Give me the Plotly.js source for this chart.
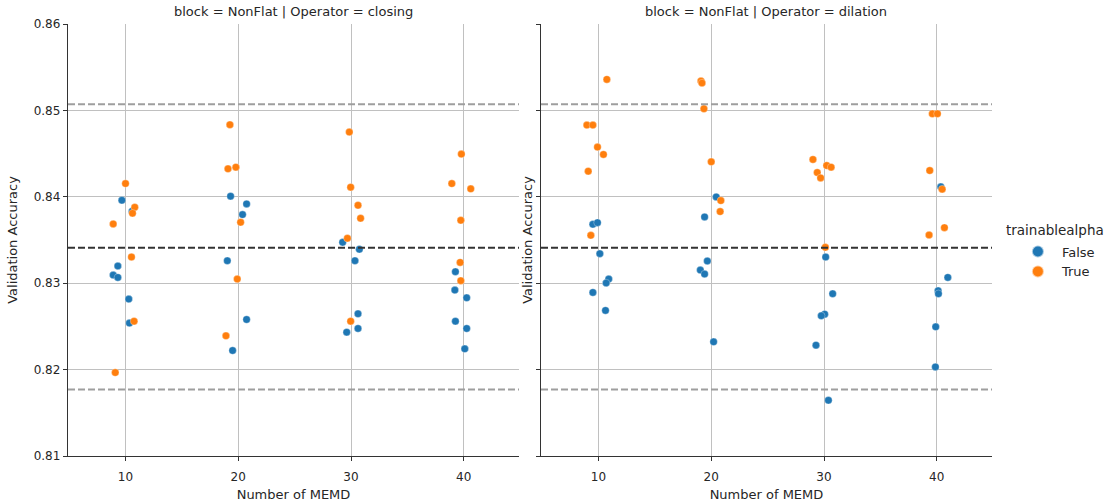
<!DOCTYPE html>
<html>
<head>
<meta charset="utf-8">
<script src="https://cdn.plot.ly/plotly-3.0.1.min.js"></script>
<style>html,body{margin:0;padding:0;background:#fff;}#chart{width:1112px;height:502px;}</style>
</head>
<body>
<div id="chart"></div>
<script>
// ---- data ----
const panelTitles = ["block = NonFlat | Operator = closing", "block = NonFlat | Operator = dilation"];
const hueTitle = "trainablealpha";
const hueNames = ["False", "True"];
const xTicks = [10, 20, 30, 40];
const yTicks = [0.81, 0.82, 0.83, 0.84, 0.85, 0.86];

const closingFalseX = [9.68,10.59,9.32,8.91,9.32,10.29,10.35, 19.32,20.74,20.38,19.03,20.74,19.5, 29.26,30.74,30.35,30.62,30.62,29.62, 39.26,39.21,40.26,39.26,40.26,40.09];
const closingFalseY = [0.8396,0.83833,0.83199,0.83094,0.83067,0.82816,0.82538, 0.84007,0.83918,0.83794,0.8326,0.8258,0.82221, 0.83473,0.83392,0.8326,0.82646,0.82476,0.82433, 0.83133,0.8292,0.82831,0.8256,0.82476,0.8224];
const closingTrueX = [10.0,10.82,10.62,8.91,10.53,10.76,9.09, 19.26,19.09,19.79,20.21,19.91,18.91, 29.85,29.97,30.62,30.85,29.68,29.97, 39.79,38.94,40.62,39.74,39.68,39.74];
const closingTrueY = [0.84153,0.83879,0.8381,0.83686,0.83303,0.8256,0.81966, 0.84834,0.84324,0.84343,0.83705,0.83048,0.82391, 0.84749,0.84111,0.83902,0.83751,0.8352,0.8256, 0.84494,0.84153,0.84092,0.83728,0.83241,0.83029];
const dilationFalseX = [9.5,9.91,10.12,10.91,10.68,9.5,10.62, 20.44,19.41,19.65,19.03,19.41,20.21, 30.15,30.77,30.06,29.76,29.29,30.39, 40.36,40.98,40.12,40.15,39.91,39.88];
const dilationFalseY = [0.83682,0.83701,0.83342,0.83048,0.83002,0.82893,0.82685, 0.83999,0.83767,0.83257,0.83152,0.83106,0.82321, 0.83303,0.82878,0.82642,0.82623,0.82283,0.81645, 0.84115,0.83067,0.82913,0.82878,0.82495,0.82031];
const dilationTrueX = [10.74,8.97,9.5,9.91,10.44,9.09,9.32, 19.09,19.18,19.35,20.0,20.85,20.79, 29.02,29.4,29.7,30.24,30.63,30.12, 39.61,40.06,39.38,40.48,40.68,39.32];
const dilationTrueY = [0.85359,0.8483,0.8483,0.84575,0.8449,0.84296,0.83554, 0.8534,0.85317,0.85019,0.84405,0.83956,0.83829, 0.84432,0.84281,0.84219,0.84362,0.84343,0.83415, 0.84961,0.84961,0.84304,0.84088,0.83643,0.83558];

const meanLine = 0.8341;
const bandLines = [0.8507, 0.8177];

// ---- styles ----
const colors = ["#1f77b4", "#ff7f0e"];
const FONT = "DejaVu Sans, sans-serif";
const textColor = "#262626";

function pts(x, y, hueIdx, ax, showLegend) {
  return {
    type: "scatter", mode: "markers", x: x, y: y,
    xaxis: ax[0], yaxis: ax[1],
    name: hueNames[hueIdx], showlegend: showLegend,
    marker: { color: colors[hueIdx], size: 7.5, line: { color: "rgba(255,255,255,0.6)", width: 0.5 } },
    hoverinfo: "x+y"
  };
}

const data = [
  pts(closingFalseX, closingFalseY, 0, ["x", "y"], true),
  pts(closingTrueX, closingTrueY, 1, ["x", "y"], true),
  pts(dilationFalseX, dilationFalseY, 0, ["x2", "y2"], false),
  pts(dilationTrueX, dilationTrueY, 1, ["x2", "y2"], false)
];

function hline(yv, xref, yref, color) {
  return { type: "line", xref: xref + " domain", yref: yref, x0: 0, x1: 1, y0: yv, y1: yv,
           line: { color: color, width: 2, dash: "7px,3px" }, layer: "above" };
}
const shapes = [];
[["x", "y"], ["x2", "y2"]].forEach(a => {
  bandLines.forEach(v => shapes.push(hline(v, a[0], a[1], "#9e9e9e")));
  shapes.push(hline(meanLine, a[0], a[1], "#333333"));
});

const xBase = {
  range: [4.9, 44.9], tickvals: xTicks, ticktext: xTicks.map(String),
  showgrid: true, gridcolor: "#c0c0c0", gridwidth: 1,
  zeroline: false, showline: true, linecolor: "#333333", linewidth: 1.25,
  ticks: "outside", ticklen: 4, tickcolor: "#333333", tickwidth: 1,
  ticklabelstandoff: 5,
  tickfont: { family: FONT, size: 12, color: textColor },
  title: { text: "Number of MEMD", font: { family: FONT, size: 13, color: textColor }, standoff: 12 },
  automargin: false
};
const yBase = {
  range: [0.81, 0.86], tickvals: yTicks, ticktext: yTicks.map(v => v.toFixed(2)),
  showgrid: true, gridcolor: "#c0c0c0", gridwidth: 1,
  zeroline: false, showline: true, linecolor: "#333333", linewidth: 1.25,
  ticks: "outside", ticklen: 4, tickcolor: "#333333", tickwidth: 1,
  tickfont: { family: FONT, size: 12, color: textColor },
  title: { text: "Validation Accuracy", font: { family: FONT, size: 13, color: textColor }, standoff: 13 },
  automargin: false
};

const layout = {
  width: 1112, height: 502,
  margin: { l: 68, r: 116, t: 24, b: 46 },
  paper_bgcolor: "#ffffff", plot_bgcolor: "#ffffff",
  font: { family: FONT, size: 12, color: textColor },
  showlegend: true,
  legend: {
    x: (1018 - 68) / 928, xanchor: "left", y: 0.508, yanchor: "top",
    font: { family: FONT, size: 13, color: textColor },
    itemsizing: "constant", itemwidth: 38, tracegroupgap: 0,
    bgcolor: "rgba(0,0,0,0)", borderwidth: 0
  },
  xaxis: Object.assign({}, xBase, { domain: [0, 0.4881], anchor: "y" }),
  yaxis: Object.assign({}, yBase, { domain: [0, 1], anchor: "x" }),
  xaxis2: Object.assign({}, xBase, { domain: [0.5119, 1], anchor: "y2" }),
  yaxis2: Object.assign({}, yBase, { domain: [0, 1], anchor: "x2", showticklabels: false,
    title: { text: "Validation Accuracy", font: { family: FONT, size: 13, color: textColor }, standoff: 0 } }),
  shapes: shapes,
  annotations: panelTitles.map((t, i) => ({
    text: t, xref: i === 0 ? "x domain" : "x2 domain", yref: "paper",
    x: 0.5, y: 1, xanchor: "center", yanchor: "bottom", yshift: 3, showarrow: false,
    font: { family: FONT, size: 13, color: textColor }
  })).concat([{
    text: hueTitle, xref: "paper", yref: "paper", x: (1008 - 68) / 928, y: 1 - (230 - 24) / 432,
    xanchor: "left", yanchor: "middle", showarrow: false,
    font: { family: FONT, size: 13.5, color: textColor }
  }])
};

Plotly.newPlot("chart", data, layout, { staticPlot: true, displayModeBar: false });
</script>
</body>
</html>
